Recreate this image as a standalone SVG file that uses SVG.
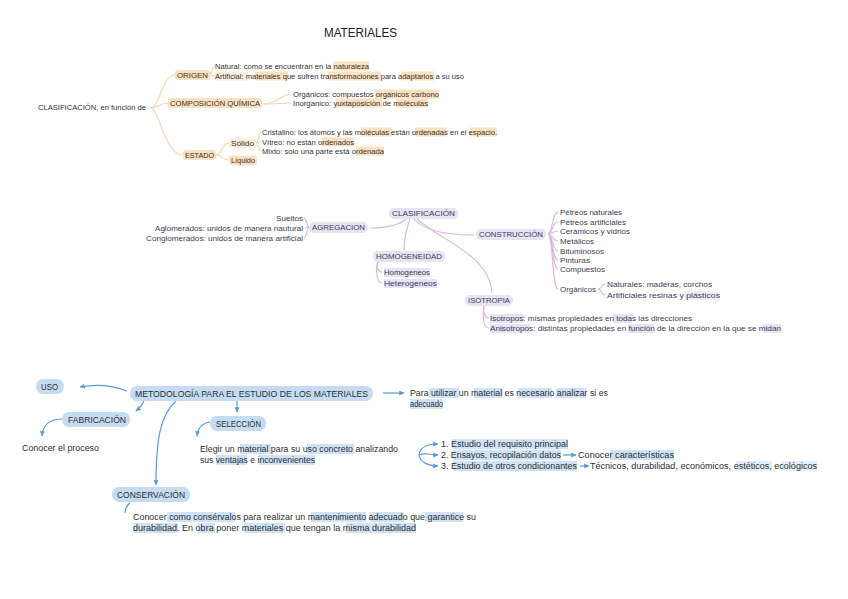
<svg xmlns="http://www.w3.org/2000/svg" width="848" height="599" viewBox="0 0 848 599">
<style>
text{font-family:"Liberation Sans",Arial,sans-serif;fill:#333}
.t{font-size:7px}
.m{font-size:7.5px;fill:#3d3d52}
.b{font-size:8.5px;fill:#2e2e2e}
.title{font-size:12px;fill:#222}
.ho{fill:#fbe1c0}
.hol{fill:#fdeedb}
.hp{fill:#e5e3f4}
.hb{fill:#cfe2f6}
.bx{fill:#c4dbf2}
.lo{fill:none;stroke:#efd6b0;stroke-width:1.1}
.lp{fill:none;stroke:#dab6da;stroke-width:1.1}
.lb{fill:none;stroke:#5b9bd5;stroke-width:1.2}
</style>
<defs>
<marker id="ar" viewBox="0 0 10 10" refX="8" refY="5" markerWidth="5" markerHeight="5" orient="auto">
<path d="M0,1 L9,5 L0,9 Z" fill="#5b9bd5"/>
</marker>
</defs>
<rect width="848" height="599" fill="#ffffff"/>

<text class="title" x="324" y="37" textLength="73" lengthAdjust="spacingAndGlyphs">MATERIALES</text>

<g id="connectors">
<!-- top -->
<path class="lo" d="M150,108 C160,108 162,75 175,75"/>
<path class="lo" d="M150,108 C158,108 160,103 168,103"/>
<path class="lo" d="M150,108 C160,108 164,155 183,155"/>
<path class="lo" d="M209,75 C212,75 212,66 215,66"/>
<path class="lo" d="M209,75 C212,75 212,76 215,76"/>
<path class="lo" d="M264,104 C276,104 280,95 291,94"/>
<path class="lo" d="M264,104 C276,104 280,103 291,103"/>
<path class="lo" d="M216,155 C222,155 222,143 229,143"/>
<path class="lo" d="M216,155 C222,155 222,160 229,160"/>
<path class="lo" d="M256,143 C259,143 258,132 261,132"/>
<path class="lo" d="M256,143 L261,142"/>
<path class="lo" d="M256,143 C259,143 258,151 261,151"/>
<!-- middle -->
<path class="lp" d="M406,219 C398,226 385,228 370,228"/>
<path class="lp" d="M410,219 C406,230 404,240 404,250"/>
<path class="lp" d="M414,219 C425,232 450,235 474,235"/>
<path class="lp" d="M417,219 C440,240 490,255 492,293"/>
<path class="lp" d="M310,227 C306,227 307,218 304,218"/>
<path class="lp" d="M310,227 L305,228"/>
<path class="lp" d="M310,227 C306,227 307,238 304,238"/>
<path class="lp" d="M378,261 C376,265 377,272 382,272"/>
<path class="lp" d="M378,261 C375,270 377,283 382,283"/>
<path class="lp" d="M548,234 C553,234 552,212 558,212"/>
<path class="lp" d="M548,234 C553,234 552,222 558,222"/>
<path class="lp" d="M548,234 C553,234 552,231 558,231"/>
<path class="lp" d="M548,234 C553,234 552,241 558,241"/>
<path class="lp" d="M548,234 C553,234 552,251 558,251"/>
<path class="lp" d="M548,234 C553,234 552,260 558,260"/>
<path class="lp" d="M548,234 C553,234 552,269 558,269"/>
<path class="lp" d="M548,234 C553,234 552,289 558,289"/>
<path class="lp" d="M598,289 C602,289 601,284 605,284"/>
<path class="lp" d="M598,289 C602,289 601,295 605,295"/>
<path class="lp" d="M484,306 C483,310 484,318 489,318"/>
<path class="lp" d="M484,306 C482,318 484,328 489,328"/>
<!-- bottom -->
<path class="lb" d="M127,391 C112,385 96,384 80,387" marker-end="url(#ar)"/>
<path class="lb" d="M144,400 C143,404 141,407 136,411" marker-end="url(#ar)"/>
<path class="lb" d="M62,419 C50,419 43,424 42,436" marker-end="url(#ar)"/>
<path class="lb" d="M176,401 C160,415 156,440 156,485" marker-end="url(#ar)"/>
<path class="lb" d="M237,401 L237,412" marker-end="url(#ar)"/>
<path class="lb" d="M210,422 C202,423 198,428 197,436" marker-end="url(#ar)"/>
<path class="lb" d="M130,503 C126,506 125,509 125,513"/>
<path class="lb" d="M383,393 L404,393" marker-end="url(#ar)"/>
<path class="lb" d="M419,455 C420,447 428,444 438,444" marker-end="url(#ar)"/>
<path class="lb" d="M419,455 C425,452 430,455 438,455" marker-end="url(#ar)"/>
<path class="lb" d="M419,455 C420,462 428,466 438,466" marker-end="url(#ar)"/>
<path class="lb" d="M563,455 L576,455" marker-end="url(#ar)"/>
<path class="lb" d="M580,466 L589,466" marker-end="url(#ar)"/>
</g>

<!-- TOP SECTION -->
<g id="n-clasif1"><text class="t" x="38" y="110" textLength="108" lengthAdjust="spacingAndGlyphs">CLASIFICACIÓN, en función de</text></g>
<g id="n-origen">
<rect class="ho" x="175" y="70" width="35" height="10" rx="3"/>
<text class="t" x="177" y="77.5" textLength="31" lengthAdjust="spacingAndGlyphs">ORIGEN</text>
</g>
<g id="n-natural">
<rect class="ho" x="333" y="61.5" width="36" height="9"/>
<text class="t" x="215" y="68.5" textLength="154" lengthAdjust="spacingAndGlyphs">Natural: como se encuentran en la naturaleza</text>
</g>
<g id="n-artificial">
<rect class="hol" x="215" y="71.5" width="33" height="9"/>
<rect class="ho" x="255" y="71.5" width="33" height="9"/>
<rect class="ho" x="328" y="71.5" width="53" height="9"/>
<rect class="ho" x="401" y="71.5" width="33" height="9"/>
<text class="t" x="215" y="78.5" textLength="249" lengthAdjust="spacingAndGlyphs">Artificial: materiales que sufren transformaciones para adaptarlos a su uso</text>
</g>
<g id="n-composicion">
<rect class="ho" x="168" y="98" width="94" height="10" rx="3"/>
<text class="t" x="170" y="105.5" textLength="90" lengthAdjust="spacingAndGlyphs">COMPOSICIÓN QUÍMICA</text>
</g>
<g id="n-organicos1">
<rect class="ho" x="375" y="89.5" width="64" height="9"/>
<text class="t" x="293" y="96.5" textLength="146" lengthAdjust="spacingAndGlyphs">Orgánicos: compuestos orgánicos carbono</text>
</g>
<g id="n-inorganico">
<rect class="ho" x="336" y="98.5" width="46" height="9"/>
<rect class="ho" x="396" y="98.5" width="32" height="9"/>
<text class="t" x="293" y="105.5" textLength="135" lengthAdjust="spacingAndGlyphs">Inorganico: yuxtaposición de moléculas</text>
</g>
<g id="n-estado">
<rect class="ho" x="183" y="150" width="33" height="10" rx="3"/>
<text class="t" x="185" y="157.5" textLength="29" lengthAdjust="spacingAndGlyphs">ESTADO</text>
</g>
<g id="n-solido">
<rect class="hol" x="229" y="138.5" width="27" height="10" rx="3"/>
<text class="t" x="231" y="145.5" textLength="23" lengthAdjust="spacingAndGlyphs">Sólido</text>
</g>
<g id="n-liquido">
<rect class="ho" x="229" y="155.5" width="28" height="10" rx="3"/>
<text class="t" x="231" y="162.5" textLength="24" lengthAdjust="spacingAndGlyphs">Líquido</text>
</g>
<g id="n-cristalino">
<rect class="ho" x="361" y="127.5" width="31" height="9"/>
<rect class="ho" x="415" y="127.5" width="31" height="9"/>
<rect class="ho" x="470" y="127.5" width="27" height="9"/>
<text class="t" x="262" y="134.5" textLength="235" lengthAdjust="spacingAndGlyphs">Cristalino: los átomos y las moléculas están ordenadas en el espacio.</text>
</g>
<g id="n-vitreo">
<rect class="ho" x="322" y="137.5" width="32" height="9"/>
<text class="t" x="262" y="144.5" textLength="92" lengthAdjust="spacingAndGlyphs">Vítreo: no están ordenados</text>
</g>
<g id="n-mixto">
<rect class="ho" x="356" y="146.5" width="28" height="9"/>
<text class="t" x="262" y="153.5" textLength="122" lengthAdjust="spacingAndGlyphs">Mixto: solo una parte está ordenada</text>
</g>

<!-- MIDDLE SECTION -->
<g id="n-clasif2">
<rect class="hp" x="389" y="208" width="69" height="11" rx="5"/>
<text class="m" x="392" y="216" textLength="63" lengthAdjust="spacingAndGlyphs">CLASIFICACIÓN</text>
</g>
<g id="n-agregacion">
<rect class="hp" x="309" y="222" width="59" height="11" rx="5"/>
<text class="m" x="312" y="230" textLength="53" lengthAdjust="spacingAndGlyphs">AGREGACION</text>
</g>
<g id="n-sueltos"><text class="m" x="303" y="220.5" text-anchor="end" textLength="27" lengthAdjust="spacingAndGlyphs">Sueltos</text></g>
<g id="n-aglomerados"><text class="m" x="303" y="230.5" text-anchor="end" textLength="148" lengthAdjust="spacingAndGlyphs">Aglomerados: unidos de manera nautural</text></g>
<g id="n-conglomerados"><text class="m" x="303" y="240.5" text-anchor="end" textLength="157" lengthAdjust="spacingAndGlyphs">Conglomerados: unidos de manera artificial</text></g>
<g id="n-homogeneidad">
<rect class="hp" x="373" y="251" width="72" height="11" rx="5"/>
<text class="m" x="376" y="259" textLength="66" lengthAdjust="spacingAndGlyphs">HOMOGENEIDAD</text>
</g>
<g id="n-homogeneos">
<rect class="hp" x="384" y="268" width="46" height="9"/>
<text class="m" x="384" y="274.5" textLength="46" lengthAdjust="spacingAndGlyphs">Homogeneos</text>
</g>
<g id="n-heterogeneos">
<rect class="hp" x="384" y="279" width="53" height="9"/>
<text class="m" x="384" y="285.5" textLength="53" lengthAdjust="spacingAndGlyphs">Heterogeneos</text>
</g>
<g id="n-construccion">
<rect class="hp" x="476" y="229" width="70" height="11" rx="5"/>
<text class="m" x="479" y="237" textLength="64" lengthAdjust="spacingAndGlyphs">CONSTRUCCIÓN</text>
</g>
<g id="n-isotropia">
<rect class="hp" x="465" y="295" width="48" height="11" rx="5"/>
<text class="m" x="468" y="303" textLength="42" lengthAdjust="spacingAndGlyphs">ISOTROPIA</text>
</g>
<g id="n-isotropos">
<rect class="hp" x="490" y="314" width="34" height="9"/>
<rect class="hp" x="613" y="314" width="19" height="9"/>
<text class="m" x="490" y="320.5" textLength="202" lengthAdjust="spacingAndGlyphs">Isotropos: mismas propiedades en todas las direcciones</text>
</g>
<g id="n-anisotropos">
<rect class="hp" x="490" y="324" width="40" height="9"/>
<rect class="hp" x="628" y="324" width="26" height="9"/>
<rect class="hp" x="763" y="324" width="18" height="9"/>
<text class="m" x="490" y="330.5" textLength="291" lengthAdjust="spacingAndGlyphs">Anisotropos: distintas propiedades en función de la dirección en la que se midan</text>
</g>
<g id="n-petreosnat"><text class="m" x="560" y="214.5" textLength="62" lengthAdjust="spacingAndGlyphs">Pétreos naturales</text></g>
<g id="n-petreosart"><text class="m" x="560" y="224.5" textLength="66" lengthAdjust="spacingAndGlyphs">Pétreos artificiales</text></g>
<g id="n-ceramicos"><text class="m" x="560" y="233.5" textLength="70" lengthAdjust="spacingAndGlyphs">Cerámicos y vidrios</text></g>
<g id="n-metalicos"><text class="m" x="560" y="243.5" textLength="34" lengthAdjust="spacingAndGlyphs">Metálicos</text></g>
<g id="n-bituminosos"><text class="m" x="560" y="253.5" textLength="44" lengthAdjust="spacingAndGlyphs">Bituminosos</text></g>
<g id="n-pinturas"><text class="m" x="560" y="262.5" textLength="30" lengthAdjust="spacingAndGlyphs">Pinturas</text></g>
<g id="n-compuestos"><text class="m" x="560" y="271.5" textLength="45" lengthAdjust="spacingAndGlyphs">Compuestos</text></g>
<g id="n-organicos2"><text class="m" x="560" y="291.5" textLength="36" lengthAdjust="spacingAndGlyphs">Orgánicos</text></g>
<g id="n-naturales"><text class="m" x="607" y="286.5" textLength="105" lengthAdjust="spacingAndGlyphs">Naturales: maderas, corchos</text></g>
<g id="n-artificiales">
<rect class="hp" x="684" y="291" width="36" height="9" opacity="0.6"/>
<text class="m" x="607" y="297.5" textLength="113" lengthAdjust="spacingAndGlyphs">Artificiales resinas y plásticos</text>
</g>

<!-- BOTTOM SECTION -->
<g id="n-uso">
<rect class="bx" x="36" y="379" width="28" height="15" rx="7"/>
<text class="b" x="41" y="389.5" textLength="17" lengthAdjust="spacingAndGlyphs">USO</text>
</g>
<g id="n-metodologia">
<rect class="bx" x="130" y="386" width="243" height="15" rx="7"/>
<text class="b" x="135" y="396.5" textLength="233" lengthAdjust="spacingAndGlyphs">METODOLOGÍA PARA EL ESTUDIO DE LOS MATERIALES</text>
</g>
<g id="n-fabricacion">
<rect class="bx" x="62" y="412" width="68" height="15" rx="7"/>
<text class="b" x="68" y="422.5" textLength="58" lengthAdjust="spacingAndGlyphs">FABRICACIÓN</text>
</g>
<g id="n-proceso"><text class="b" x="22" y="450.5" textLength="77" lengthAdjust="spacingAndGlyphs">Conocer el proceso</text></g>
<g id="n-seleccion">
<rect class="bx" x="210" y="416" width="56" height="15" rx="7"/>
<text class="b" x="216" y="426.5" textLength="45" lengthAdjust="spacingAndGlyphs">SELECCIÓN</text>
</g>
<g id="n-elegir">
<rect class="hb" x="240" y="444" width="31" height="10"/>
<rect class="hb" x="307" y="444" width="47" height="10"/>
<rect class="hb" x="216" y="455" width="31" height="10"/>
<rect class="hb" x="259" y="455" width="56" height="10"/>
<text class="b" x="200" y="451.5" textLength="198" lengthAdjust="spacingAndGlyphs">Elegir un material para su uso concreto analizando</text>
<text class="b" x="200" y="462.5" textLength="115" lengthAdjust="spacingAndGlyphs">sus ventajas e inconvenientes</text>
</g>
<g id="n-conservacion">
<rect class="bx" x="112" y="487" width="78" height="15" rx="7"/>
<text class="b" x="117" y="497.5" textLength="68" lengthAdjust="spacingAndGlyphs">CONSERVACIÓN</text>
</g>
<g id="n-conocercomo">
<rect class="hb" x="167" y="512" width="68" height="10"/>
<rect class="hb" x="311" y="512" width="55" height="10"/>
<rect class="hb" x="370" y="512" width="34" height="10"/>
<rect class="hb" x="425" y="512" width="38" height="10"/>
<rect class="hb" x="133" y="523" width="45" height="10"/>
<rect class="hb" x="198" y="523" width="17" height="10"/>
<rect class="hb" x="244" y="523" width="41" height="10"/>
<rect class="hb" x="346" y="523" width="70" height="10"/>
<text class="b" x="133" y="519.5" textLength="343" lengthAdjust="spacingAndGlyphs">Conocer como consérvalos para realizar un mantenimiento adecuado que garantice su</text>
<text class="b" x="133" y="530.5" textLength="283" lengthAdjust="spacingAndGlyphs">durabilidad. En obra poner materiales que tengan la misma durabilidad</text>
</g>
<g id="n-para">
<rect class="hb" x="429" y="388" width="30" height="10"/>
<rect class="hb" x="474" y="388" width="29" height="10"/>
<rect class="hb" x="518" y="388" width="34" height="10"/>
<rect class="hb" x="556" y="388" width="30" height="10"/>
<rect class="hb" x="410" y="399" width="33" height="10"/>
<text class="b" x="410" y="395.5" textLength="198" lengthAdjust="spacingAndGlyphs">Para utilizar un material es necesario analizar si es</text>
<text class="b" x="410" y="406.5" textLength="33" lengthAdjust="spacingAndGlyphs">adecuado</text>
</g>
<g id="n-estudio1">
<rect class="hb" x="452" y="439" width="116" height="10"/>
<text class="b" x="441" y="446.5" textLength="127" lengthAdjust="spacingAndGlyphs">1. Estudio del requisito principal</text>
</g>
<g id="n-ensayos">
<rect class="hb" x="453" y="450" width="108" height="10"/>
<text class="b" x="441" y="457.5" textLength="120" lengthAdjust="spacingAndGlyphs">2. Ensayos, recopilación datos</text>
</g>
<g id="n-caracteristicas">
<rect class="hb" x="610" y="450" width="64" height="10"/>
<text class="b" x="578" y="457.5" textLength="96" lengthAdjust="spacingAndGlyphs">Conocer características</text>
</g>
<g id="n-estudio3">
<rect class="hb" x="453" y="461" width="124" height="10"/>
<text class="b" x="441" y="468.5" textLength="136" lengthAdjust="spacingAndGlyphs">3. Estudio de otros condicionantes</text>
</g>
<g id="n-tecnicos">
<rect class="hb" x="736" y="461" width="36" height="10" opacity="0.6"/>
<rect class="hb" x="781" y="461" width="36" height="10" opacity="0.6"/>
<text class="b" x="590" y="468.5" textLength="227" lengthAdjust="spacingAndGlyphs">Técnicos, durabilidad, económicos, estéticos, ecológicos</text>
</g>
</svg>
